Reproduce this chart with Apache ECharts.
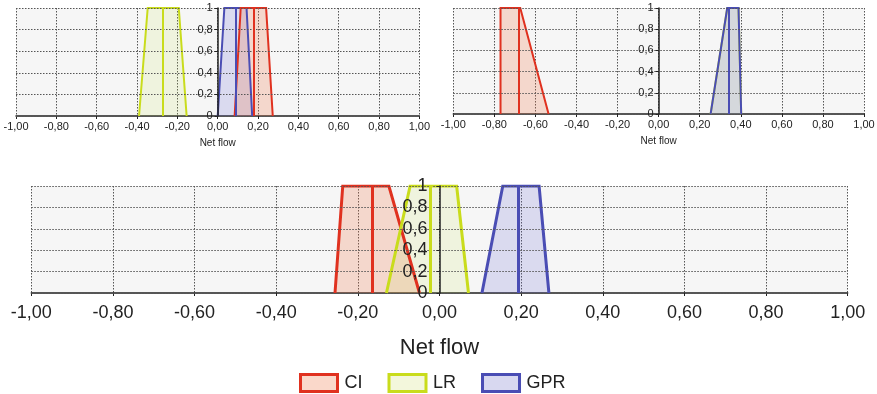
<!DOCTYPE html>
<html>
<head>
<meta charset="utf-8">
<script src="https://cdn.jsdelivr.net/npm/echarts@6/dist/echarts.min.js"></script>
<style>
  html, body { margin: 0; padding: 0; background: #ffffff; }
  #chart { width: 877px; height: 394px; }
</style>
</head>
<body>
<div id="chart"></div>
<script>
// Trapezoidal fuzzy numbers on the net flow scale: [a, b, c, d] plus a crisp centre value.
// Panel A (top left)
const panelA_CI  = [0.084, 0.114, 0.240, 0.273];
const panelA_CI_centre = 0.179;
const panelA_LR  = [-0.390, -0.347, -0.193, -0.154];
const panelA_LR_centre = -0.271;
const panelA_GPR = [0.000, 0.033, 0.143, 0.171];
const panelA_GPR_centre = 0.088;

// Panel B (top right)
const panelB_CI  = [-0.770, -0.770, -0.674, -0.536];
const panelB_CI_centre = -0.682;
const panelB_LR  = [0.253, 0.334, 0.389, 0.402];
const panelB_LR_centre = 0.342;
const panelB_GPR = [0.253, 0.334, 0.389, 0.402];
const panelB_GPR_centre = 0.342;

// Panel C (bottom)
const panelC_CI  = [-0.256, -0.237, -0.124, -0.049];
const panelC_CI_centre = -0.165;
const panelC_LR  = [-0.130, -0.072, 0.042, 0.071];
const panelC_LR_centre = -0.023;
const panelC_GPR = [0.104, 0.155, 0.244, 0.268];
const panelC_GPR_centre = 0.193;

const membership = [0, 1, 1, 0];
const xTickLabels = ['-1,00', '-0,80', '-0,60', '-0,40', '-0,20', '0,00', '0,20', '0,40', '0,60', '0,80', '1,00'];
const yTickLabels = ['0', '0,2', '0,4', '0,6', '0,8', '1'];
const methodNames = ['CI', 'LR', 'GPR'];
const axisName = 'Net flow';

const lineColors = { CI: '#e0311f', LR: '#c9dc1c', GPR: '#4a4db4' };
const fillColors = {
  CI: 'rgba(240,115,70,0.34)',
  LR: 'rgba(200,225,80,0.20)',
  GPR: 'rgba(100,100,210,0.27)'
};
const legendFill = { CI: '#fad8ca', LR: '#f3f7dc', GPR: '#d8d8f0' };

const xLabel = v => xTickLabels[Math.round((v + 1) / 0.2)];
const yLabel = v => yTickLabels[Math.round(v / 0.2)];

const grids = [
  { left: 16, width: 403.4, top: 8, height: 108 },
  { left: 453.3, width: 410.7, top: 8, height: 106 },
  { left: 31.3, width: 816.4, top: 186, height: 107 }
];
const style = [
  { tick: 11, name: 10, nameGap: 22, xMargin: 5, yMargin: 5, lw: 2 },
  { tick: 11, name: 10, nameGap: 22, xMargin: 5, yMargin: 5, lw: 2 },
  { tick: 18, name: 22, nameGap: 44, xMargin: 11, yMargin: 12, lw: 3 }
];

const xAxes = [], yAxes = [];
grids.forEach((g, i) => {
  const s = style[i];
  xAxes.push({
    type: 'value', gridIndex: i, min: -1, max: 1, interval: 0.2,
    name: axisName, nameLocation: 'middle', nameGap: s.nameGap,
    nameTextStyle: { fontFamily: 'Liberation Sans', fontSize: s.name, color: '#222' },
    axisLine: { show: true, lineStyle: { color: '#222', width: 1.5 } },
    axisTick: { show: true, length: 3, lineStyle: { color: '#222' } },
    axisLabel: { formatter: xLabel, margin: s.xMargin, fontFamily: 'Liberation Sans', fontSize: s.tick, color: '#222' },
    splitLine: { show: true, lineStyle: { color: '#555', type: [1.5, 1.5], width: 1 } }
  });
  // the vertical axis sits at net flow = 0, the middle of the panel, above the filled shapes
  yAxes.push({
    type: 'value', gridIndex: i, min: 0, max: 1, interval: 0.2,
    position: 'left', offset: -g.width / 2, z: 5,
    axisLine: { show: true, onZero: false, lineStyle: { color: '#222', width: 1.5 } },
    axisTick: { show: true, length: 3, lineStyle: { color: '#222' } },
    axisLabel: { formatter: yLabel, margin: s.yMargin, fontFamily: 'Liberation Sans', fontSize: s.tick, color: '#222' },
    splitLine: { show: true, lineStyle: { color: '#555', type: [1.5, 1.5], width: 1 } }
  });
});

const panels = [
  { CI: [panelA_CI, panelA_CI_centre], LR: [panelA_LR, panelA_LR_centre], GPR: [panelA_GPR, panelA_GPR_centre] },
  { CI: [panelB_CI, panelB_CI_centre], LR: [panelB_LR, panelB_LR_centre], GPR: [panelB_GPR, panelB_GPR_centre] },
  { CI: [panelC_CI, panelC_CI_centre], LR: [panelC_LR, panelC_LR_centre], GPR: [panelC_GPR, panelC_GPR_centre] }
];
const drawOrder = [['LR', 'GPR', 'CI'], ['LR', 'GPR', 'CI'], ['CI', 'LR', 'GPR']];

const series = [];
panels.forEach((p, i) => {
  drawOrder[i].forEach(m => {
    const [pts, centre] = p[m];
    series.push({
      name: m, type: 'line', xAxisIndex: i, yAxisIndex: i,
      data: pts.map((x, k) => [x, membership[k]]),
      symbol: 'none', silent: true, animation: false,
      lineStyle: { color: lineColors[m], width: style[i].lw, join: 'miter' },
      itemStyle: { color: lineColors[m] },
      areaStyle: { color: fillColors[m], origin: 'start' },
      markLine: {
        silent: true, animation: false, symbol: ['none', 'none'],
        label: { show: false },
        lineStyle: { color: lineColors[m], width: style[i].lw, type: 'solid' },
        data: [[{ coord: [centre, 0] }, { coord: [centre, 1] }]]
      }
    });
  });
});

const chart = echarts.init(document.getElementById('chart'), null, { renderer: 'canvas' });
chart.setOption({
  animation: false,
  backgroundColor: '#ffffff',
  grid: grids.map(g => Object.assign({ show: true, backgroundColor: '#f6f6f6', borderWidth: 0, containLabel: false, outerBoundsMode: 'none' }, g)),
  xAxis: xAxes,
  yAxis: yAxes,
  legend: {
    left: 299, top: 373, padding: 0,
    itemWidth: 37, itemHeight: 17, itemGap: 25,
    textStyle: { fontFamily: 'Liberation Sans', fontSize: 18, color: '#222', padding: [0, 0, 0, 2] },
    data: methodNames.map(m => ({
      name: m, icon: 'rect',
      itemStyle: { color: legendFill[m], borderColor: lineColors[m], borderWidth: 3 }
    }))
  },
  series: series
});
</script>
</body>
</html>
